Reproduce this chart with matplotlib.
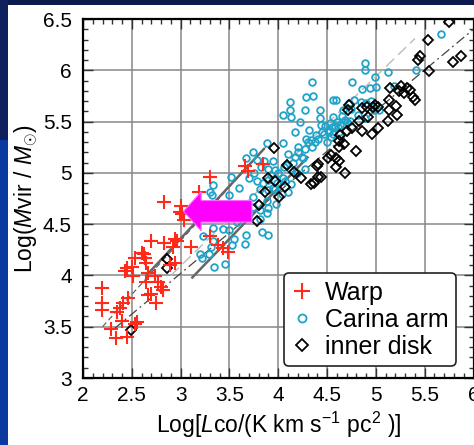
import matplotlib
matplotlib.use("Agg")
import matplotlib.pyplot as plt
from matplotlib.patches import Rectangle, FancyArrow
from matplotlib.ticker import MultipleLocator

plt.rcParams['font.family'] = ['Liberation Sans', 'DejaVu Sans']
plt.rcParams['mathtext.fontset'] = 'custom'
plt.rcParams['mathtext.rm'] = 'Liberation Sans'
plt.rcParams['mathtext.it'] = 'Liberation Sans:italic'

# ---------------- data ----------------
warp_x = [2.19, 2.19, 2.19, 2.29, 2.34, 2.45, 2.53, 2.40, 2.35, 2.38, 2.41, 2.46,
          2.45, 2.43, 2.50, 2.51, 2.53, 2.62, 2.65, 2.67, 2.65, 2.70, 2.75, 2.77,
          2.80, 2.82, 2.74, 2.70, 2.83, 2.83, 2.92, 2.94, 2.89, 2.96, 3.00, 3.01,
          3.03, 3.11, 3.19, 3.30, 3.30, 3.38, 3.43, 3.49, 3.66, 3.69, 3.84, 2.67,
          2.60, 2.55, 2.94, 2.99, 2.63]
warp_y = [3.88, 3.73, 3.66, 3.48, 3.39, 3.40, 3.53, 3.56, 3.64, 3.68, 3.73, 3.78,
          4.07, 4.04, 4.08, 3.99, 4.17, 4.21, 4.12, 4.02, 3.94, 3.82, 3.73, 3.94,
          3.89, 3.86, 3.99, 4.34, 4.32, 4.72, 4.28, 4.12, 4.10, 4.34, 4.68, 4.60,
          4.54, 4.28, 4.81, 4.96, 4.38, 4.30, 4.27, 4.23, 5.07, 5.02, 5.09, 3.81,
          4.22, 3.55, 4.36, 4.62, 4.17]

carina_x = [5.67, 4.89, 4.89, 4.99, 5.12, 4.76, 4.86, 4.94, 5.00, 5.19, 5.41, 4.35,
            4.28, 4.36, 4.12, 4.12, 4.27, 4.05, 4.13, 4.22, 4.43, 4.43, 4.56, 4.59,
            4.66, 4.72, 4.78, 4.85, 4.90, 4.98, 5.03, 4.73, 4.82, 4.89, 4.56, 4.53,
            4.48, 4.61, 4.51, 4.56, 4.17, 4.31, 4.39, 4.28, 4.34, 4.41, 3.88, 4.05,
            4.20, 4.27, 4.10, 4.17, 4.25, 3.74, 3.67, 3.78, 3.85, 3.95, 3.82, 3.90,
            3.97, 4.06, 4.12, 4.19, 4.27, 3.78, 3.84, 3.90, 3.99, 4.07, 4.13, 3.81,
            3.89, 3.97, 4.04, 4.10, 3.74, 3.88, 3.98, 3.74, 3.81, 3.90, 3.88, 3.81,
            3.33, 3.30, 3.32, 3.50, 3.33, 3.45, 3.52, 3.83, 3.90, 3.67, 3.66, 3.50,
            3.43, 3.33, 3.23, 3.33, 3.53, 3.55, 3.31, 3.20, 3.29, 3.22, 3.34, 3.45,
            4.00, 4.05, 3.95, 4.15, 4.20, 4.30, 4.45, 4.55, 4.60, 4.65, 4.70, 4.62,
            4.50, 4.35, 3.70, 3.75, 3.60, 3.65, 3.70, 3.55, 4.52, 4.58, 4.47, 4.54,
            4.63, 4.68, 4.44, 4.38, 4.24, 4.08, 3.93, 3.62, 3.58, 4.75, 4.95]
carina_y = [6.35, 6.07, 6.00, 5.93, 5.98, 5.89, 5.82, 5.83, 5.84, 5.85, 6.00, 5.89,
            5.74, 5.75, 5.69, 5.61, 5.61, 5.56, 5.54, 5.50, 5.61, 5.53, 5.71, 5.71,
            5.61, 5.68, 5.71, 5.69, 5.68, 5.61, 5.61, 5.51, 5.56, 5.53, 5.54, 5.49,
            5.46, 5.45, 5.42, 5.38, 5.40, 5.42, 5.37, 5.33, 5.32, 5.33, 5.29, 5.29,
            5.25, 5.23, 5.18, 5.15, 5.14, 5.20, 5.14, 5.13, 5.12, 5.12, 5.06, 5.04,
            5.03, 5.06, 5.04, 5.00, 5.04, 4.92, 4.90, 4.93, 4.90, 4.92, 4.89, 4.84,
            4.83, 4.84, 4.79, 4.81, 4.76, 4.73, 4.70, 4.67, 4.64, 4.66, 4.61, 4.55,
            4.88, 4.81, 4.78, 4.78, 4.68, 4.61, 4.96, 4.42, 4.39, 4.39, 4.31, 4.44,
            4.45, 4.46, 4.38, 4.34, 4.30, 4.36, 4.28, 4.21, 4.21, 4.17, 4.08, 4.11,
            5.00, 4.95, 4.85, 5.10, 5.20, 5.30, 5.40, 5.45, 5.50, 5.55, 5.50, 5.40,
            5.30, 5.25, 4.95, 5.00, 4.85, 4.70, 4.60, 4.65, 5.40, 5.46, 5.38, 5.35,
            5.47, 5.52, 5.47, 5.30, 5.15, 5.08, 4.98, 4.58, 4.52, 5.62, 5.70]

disk_x = [5.75, 5.53, 5.45, 5.43, 5.54, 5.79, 5.87, 5.14, 5.26, 5.32, 5.24, 5.29,
          5.35, 5.38, 5.40, 5.13, 5.21, 5.13, 5.22, 5.12, 5.02, 4.99, 4.97, 4.91,
          4.86, 4.92, 4.83, 4.86, 4.96, 5.02, 4.72, 4.71, 4.76, 4.70, 4.63, 4.62,
          4.67, 4.62, 4.80, 4.59, 4.62, 4.59, 4.68, 4.51, 4.54, 4.41, 4.40, 4.44,
          4.37, 4.23, 4.16, 4.09, 3.96, 3.90, 3.97, 4.07, 4.01, 3.86, 3.80, 3.78,
          2.86, 2.86, 2.49, 4.34, 4.41]
disk_y = [6.47, 6.30, 6.14, 6.10, 5.99, 6.08, 6.14, 5.83, 5.85, 5.83, 5.80, 5.78,
          5.81, 5.74, 5.71, 5.71, 5.65, 5.61, 5.56, 5.51, 5.64, 5.66, 5.64, 5.64,
          5.63, 5.54, 5.51, 5.41, 5.38, 5.44, 5.66, 5.61, 5.44, 5.41, 5.37, 5.31,
          5.28, 5.25, 5.21, 5.14, 5.12, 5.06, 5.00, 5.14, 5.17, 5.09, 5.07, 4.96,
          4.90, 4.95, 5.01, 5.08, 5.24, 4.95, 4.92, 4.86, 4.76, 4.81, 4.69, 4.53,
          4.16, 4.07, 3.47, 4.89, 4.96]

# fit / guide lines: (x0, x1), (y0, y1)
line_thin_dash_x, line_thin_dash_y = [2.20, 3.87], [3.50, 5.25]
line_solid1_x, line_solid1_y = [2.65, 3.85], [4.00, 5.23]
line_dashdot_x, line_dashdot_y = [2.32, 6.00], [3.48, 6.40]
line_solid2_x, line_solid2_y = [3.12, 4.30], [3.98, 5.15]
line_light_x, line_light_y = [2.90, 5.40], [4.00, 6.31]

# arrow (tail x, y, length)
arrow_tail = (3.73, 4.625)
arrow_len = -0.70

x_ticks = [2, 2.5, 3, 3.5, 4, 4.5, 5, 5.5, 6]
x_ticklabels = ['2', '2.5', '3', '3.5', '4', '4.5', '5', '5.5', '6']
y_ticks = [3, 3.5, 4, 4.5, 5, 5.5, 6, 6.5]
y_ticklabels = ['3', '3.5', '4', '4.5', '5', '5.5', '6', '6.5']

# ---------------- figure ----------------
W, H = 474, 445
fig = plt.figure(figsize=(W / 100, H / 100), dpi=100, facecolor='white')

# slide background strips
fig.patches.append(Rectangle((0, 1 - 5 / H), 1, 5 / H, transform=fig.transFigure,
                             facecolor='#0c1a4e', edgecolor='none', zorder=0))
fig.patches.append(Rectangle((0, 0), 8 / W, 1 - 140 / H, transform=fig.transFigure,
                             facecolor='#0a39a0', edgecolor='none', zorder=0))
fig.patches.append(Rectangle((0, 1 - 140 / H), 8 / W, 140 / H, transform=fig.transFigure,
                             facecolor='#10205e', edgecolor='none', zorder=0))

ax = fig.add_axes([83 / W, (H - 378) / H, (473.5 - 83) / W, (378 - 19) / H])
ax.set_xlim(2, 6)
ax.set_ylim(3, 6.5)

ax.set_xticks(x_ticks)
ax.set_xticklabels(x_ticklabels)
ax.set_yticks(y_ticks)
ax.set_yticklabels(y_ticklabels)
ax.xaxis.set_minor_locator(MultipleLocator(0.1))
ax.yaxis.set_minor_locator(MultipleLocator(0.1))
ax.tick_params(which='both', direction='in', top=True, right=True, labelsize=15,
               width=1, color='#333333')
ax.tick_params(which='major', length=7, pad=6)
ax.tick_params(axis='y', which='major', pad=8)
ax.tick_params(which='minor', length=3.5)
ax.grid(True, which='major', color='#888888', linewidth=1.1, zorder=0)
ax.set_axisbelow(True)
for s in ax.spines.values():
    s.set_linewidth(1.6)
    s.set_color('black')

# guide lines
ax.plot(line_light_x, line_light_y, color='#bbbbbb', lw=1.0, ls=(0, (8, 4)), zorder=2)
ax.plot(line_thin_dash_x, line_thin_dash_y, color='#555555', lw=0.8, ls=(0, (5, 3)), zorder=2)
ax.plot(line_dashdot_x, line_dashdot_y, color='#444444', lw=0.9, ls=(0, (8, 3, 1.5, 3)), zorder=2)
ax.plot(line_solid1_x, line_solid1_y, color='#666666', lw=1.8, zorder=2)
ax.plot(line_solid2_x, line_solid2_y, color='#666666', lw=1.8, zorder=2)

# data
ax.plot(carina_x, carina_y, ls='none', marker='o', ms=4.8, mfc='none', mec='#1fa3c9',
        mew=1.3, label='Carina arm', zorder=3)
ax.plot(disk_x, disk_y, ls='none', marker='D', ms=5, mfc='none', mec='black',
        mew=1.3, label='inner disk', zorder=4)
ax.plot(warp_x, warp_y, ls='none', marker='+', ms=10, mec='#ff2a1a',
        mew=1.5, label='Warp', zorder=5)

# magenta arrow
ax.add_patch(FancyArrow(arrow_tail[0], arrow_tail[1], arrow_len, 0, width=0.21,
                        head_width=0.38, head_length=0.18, length_includes_head=True,
                        facecolor='#ff00ff', edgecolor='#ff66ff', lw=0.8, zorder=6))

handles, labels = ax.get_legend_handles_labels()
order = [2, 0, 1]
leg = ax.legend([handles[i] for i in order], [labels[i] for i in order],
                loc='lower right', bbox_to_anchor=(0.955, 0.033), borderaxespad=0,
                fontsize=18, handlelength=0.9, handletextpad=0.45, labelspacing=0.12,
                borderpad=0.3, fancybox=True, framealpha=1, edgecolor='#222222',
                markerscale=1.2)
leg.get_frame().set_linewidth(1.2)
leg.set_zorder(7)

ax.set_xlabel(r'Log[$\mathit{L}$co/(K km s$^{\mathregular{-1}}$ pc$^{\mathregular{2}}$ )]',
              fontsize=16.5, labelpad=3)
ax.set_ylabel(r'Log($\mathit{M}$vir / $\mathit{M}_{\odot}$)', fontsize=16.5, labelpad=2)

fig.savefig('out.png', dpi=100, facecolor=fig.get_facecolor())
